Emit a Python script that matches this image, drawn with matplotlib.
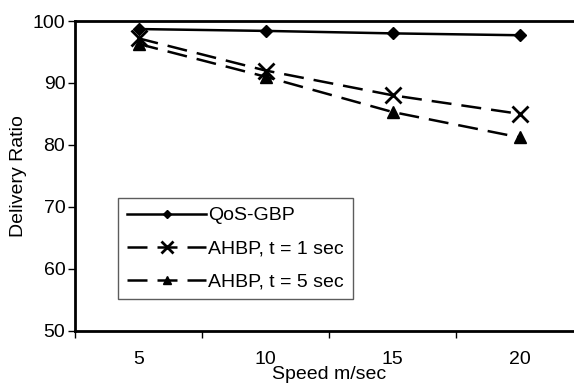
import matplotlib.pyplot as plt
import numpy as np

speeds = ["5", "10", "15", "20"]
qos_gbp = [98.7, 98.4, 98.0, 97.7]
ahbp_1 = [97.2, 92.0, 88.0, 85.0]
ahbp_5 = [96.3, 91.0, 85.3, 81.2]

plt.rc('font', family='Liberation Sans', size=14)

W, H = 574, 390
fig = plt.figure(figsize=(W / 100, H / 100), dpi=100)
# plot area runs off the right edge, like the original
ax = fig.add_axes([75 / W, (H - 330.5) / H, 508 / W, 309.5 / H])

x = np.arange(1, len(speeds) + 1)
ax.plot(x, qos_gbp, color='black', lw=1.8, marker='D', ms=6,
        label='QoS-GBP')
ax.plot(x, ahbp_1, color='black', lw=1.8, dashes=(8, 4), marker='x',
        ms=12, mew=2, label='AHBP, t = 1 sec')
ax.plot(x, ahbp_5, color='black', lw=1.8, dashes=(8, 4), marker='^',
        ms=8, label='AHBP, t = 5 sec')

ax.set_xlim(0.5, len(speeds) + 0.5)
ax.set_ylim(50, 100)
ax.set_yticks(np.arange(50, 101, 10))
ax.set_xticks(x)
ax.set_xticklabels(speeds)
ax.set_xticks(np.arange(0.5, len(speeds) + 1, 1), minor=True)
ax.tick_params(axis='x', which='major', length=0, pad=15)
ax.tick_params(axis='x', which='minor', length=5, width=1, direction='out')
ax.tick_params(axis='y', length=5, width=1, direction='out', pad=2)

for s in ax.spines.values():
    s.set_linewidth(2)

ax.set_xlabel("Speed m/sec", labelpad=-2)
ax.set_ylabel("Delivery Ratio", labelpad=4)

leg = ax.legend(loc='upper left', bbox_to_anchor=(118 / W, 1 - 198 / H),
                bbox_transform=fig.transFigure, frameon=True, fancybox=False,
                handlelength=4.1, handletextpad=0.1, labelspacing=0.8,
                borderpad=0.45, borderaxespad=0, markerscale=0.7)
leg.get_frame().set_edgecolor('#333333')
leg.get_frame().set_linewidth(1)

fig.savefig("out.png", dpi=100)
